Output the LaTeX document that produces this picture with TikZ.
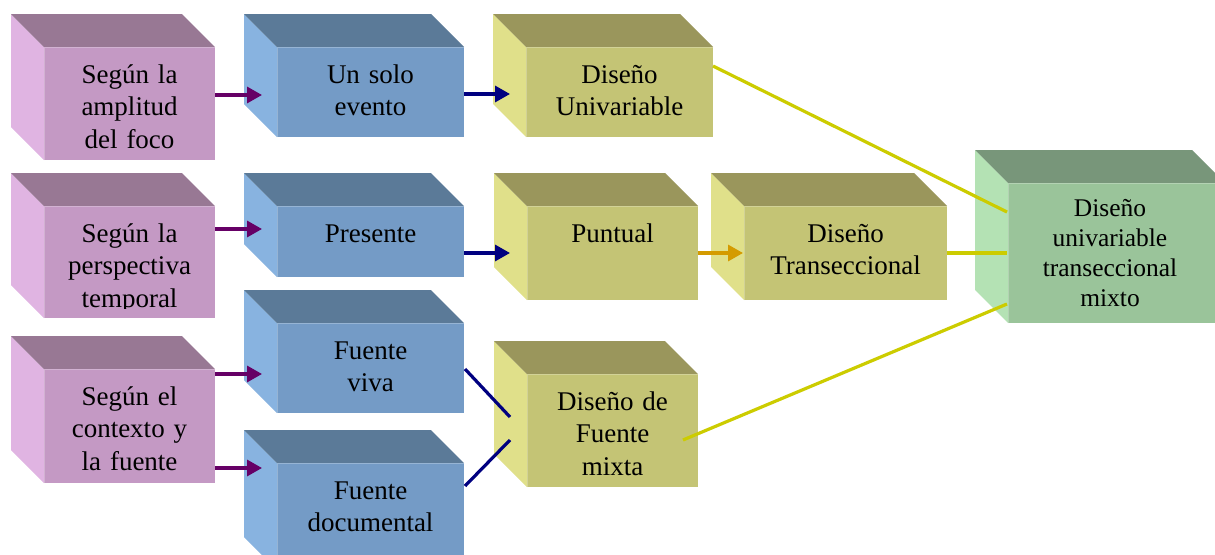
\documentclass[tikz,border=0pt]{standalone}
\usepackage{fontspec}
\setmainfont{Liberation Serif}
\usetikzlibrary{arrows.meta}
\definecolor{pFront}{HTML}{C499C4}
\definecolor{pTop}{HTML}{987894}
\definecolor{pSide}{HTML}{E0B4E2}
\definecolor{bFront}{HTML}{749BC6}
\definecolor{bTop}{HTML}{5B7A98}
\definecolor{bSide}{HTML}{88B3E0}
\definecolor{yFront}{HTML}{C4C475}
\definecolor{yTop}{HTML}{9A965C}
\definecolor{ySide}{HTML}{E0E08A}
\definecolor{gFront}{HTML}{9AC49A}
\definecolor{gTop}{HTML}{78967A}
\definecolor{gSide}{HTML}{B4E2B4}
\definecolor{cPurple}{HTML}{660066}
\definecolor{cNavy}{HTML}{000080}
\definecolor{cOrange}{HTML}{D49B00}
\definecolor{cYellow}{HTML}{CCCC00}
\tikzset{
  face/.style={anchor=north west, inner sep=0pt, outer sep=0pt, draw=white, draw opacity=0.25, line width=0.6pt},
  boxtext/.style={anchor=base, inner sep=0pt, outer sep=0pt, align=center, font=\fontsize{20.25pt}{24.4pt}\selectfont},
  smalltext/.style={font=\fontsize{19.1pt}{22.7pt}\selectfont},
  conn/.style={line width=2.4pt},
  arr/.style={conn, -{Triangle[length=11.25pt,width=12pt]}},
}
\newcommand\cubebox[9]{%
  \pgfmathsetmacro\cbw{(#4-#2)*0.75}%
  \pgfmathsetmacro\cbh{(#5-#3)*0.75}%
  \fill[#8] (#2-33,#3-33) -- (#2,#3) -- (#2,#5) -- (#2-33,#5-33) -- cycle;
  \fill[#7] (#2-33,#3-33) -- (#4-33,#3-33) -- (#4,#3) -- (#2,#3) -- cycle;
  \node[face, fill=#6, minimum width=\cbw pt, minimum height=\cbh pt] (#1) at (#2,#3) {};
  \begin{scope}
    \clip (#2,#3) rectangle (#4,#5-9.5);
    \node[boxtext, text width=\cbw pt] (#1t) at ({(#2+#4)/2},#3+36) {#9};
  \end{scope}
}
\begin{document}
\begin{tikzpicture}[x=0.75pt,y=-0.75pt]
\useasboundingbox (0,0) rectangle (1215,554);
% column 1
\cubebox{A1}{44}{47}{215}{160}{pFront}{pTop}{pSide}{Según la\\amplitud\\del foco}
\cubebox{A2}{44}{206}{215}{318}{pFront}{pTop}{pSide}{Según la\\perspectiva\\temporal}
\cubebox{A3}{44}{369}{215}{483}{pFront}{pTop}{pSide}{Según el\\contexto y\\la fuente}
% column 2
\cubebox{B1}{277}{47}{464}{137}{bFront}{bTop}{bSide}{Un solo\\evento}
\cubebox{B2}{277}{206}{464}{277}{bFront}{bTop}{bSide}{Presente}
\cubebox{B3}{277}{323}{464}{413}{bFront}{bTop}{bSide}{Fuente\\viva}
\cubebox{B4}{277}{463}{464}{570}{bFront}{bTop}{bSide}{Fuente\\documental}
% column 3
\cubebox{C1}{526}{47}{713}{137}{yFront}{yTop}{ySide}{Diseño\\Univariable}
\cubebox{C2}{527}{206}{698}{300}{yFront}{yTop}{ySide}{Puntual}
\cubebox{C4}{527}{374}{698}{487}{yFront}{yTop}{ySide}{Diseño de\\Fuente\\mixta}
\cubebox{C3}{744}{206}{947}{300}{yFront}{yTop}{ySide}{Diseño\\Transeccional}
% green
\fill[gSide] (1008-33,183-33) -- (1008,183) -- (1008,323) -- (1008-33,323-33) -- cycle;
\fill[gTop] (1008-33,183-33) -- (1225-33,183-33) -- (1225,183) -- (1008,183) -- cycle;
\node[face, fill=gFront, minimum width=162.75pt, minimum height=105pt] (G) at (1008,183) {};
\node[boxtext, smalltext, text width=150pt] (Gt) at (1110,216) {Diseño\\univariable\\transeccional\\mixto};
% connectors
\draw[arr, cPurple] ([shift={(0,-8.5)}]A1.east) -- ([shift={(-15,3)}]B1.west);
\draw[arr, cNavy] ([shift={(0,2)}]B1.east) -- ([shift={(-16,2)}]C1.west);
\draw[arr, cPurple] ([shift={(0,-33)}]A2.east) -- ([shift={(-15,-12.5)}]B2.west);
\draw[arr, cNavy] ([shift={(0,11.5)}]B2.east) -- ([shift={(-17,0)}]C2.west);
\draw[arr, cOrange] (C2.east) -- ([shift={(-1,0)}]C3.west);
\draw[arr, cPurple] ([shift={(0,-52)}]A3.east) -- ([shift={(-15,6)}]B3.west);
\draw[arr, cPurple] ([shift={(0,42)}]A3.east) -- ([shift={(-15,-48.5)}]B4.west);
\draw[conn, cNavy] ([shift={(1,1)}]B3.east) -- ([shift={(-17,-13.5)}]C4.west);
\draw[conn, cNavy] ([shift={(1,-30.5)}]B4.east) -- ([shift={(-17,9.5)}]C4.west);
\draw[conn, cYellow] ([shift={(0,-26)}]C1.east) -- ([shift={(-1,-41)}]G.west);
\draw[conn, cYellow] (C3.east) -- ([shift={(-1,0)}]G.west);
\draw[conn, cYellow] ([shift={(-15,9.5)}]C4.east) -- ([shift={(-1,51)}]G.west);
\end{tikzpicture}
\end{document}
